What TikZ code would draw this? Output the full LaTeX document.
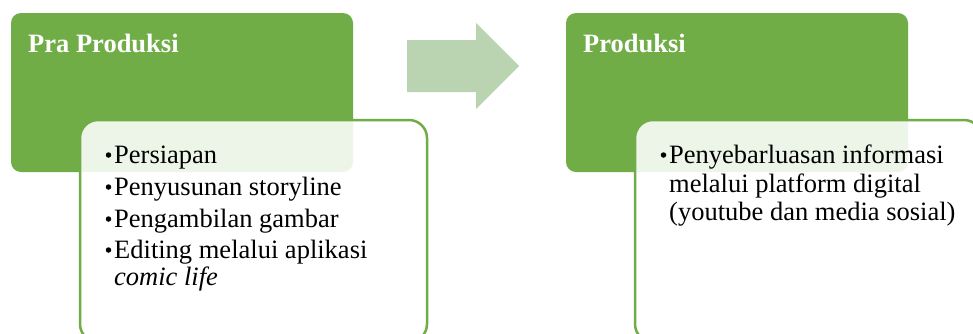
\documentclass[tikz,border=0pt]{standalone}
\usepackage{fontspec}
\setmainfont{Liberation Serif}
\definecolor{ggreen}{RGB}{112,173,71}
\definecolor{lgreen}{RGB}{186,211,176}
\begin{document}
\begin{tikzpicture}[x=1pt,y=-1pt,
  headbox/.style={fill=ggreen, rounded corners=10pt},
  bodybox/.style={draw=ggreen, line width=2.5pt, fill=white, fill opacity=0.88, rounded corners=18pt},
  titletext/.style={anchor=base west, inner sep=0pt, text=white, font=\fontsize{26.5}{30}\selectfont\bfseries},
  itemtext/.style={anchor=base west, inner sep=0pt, font=\fontsize{26.5}{30}\selectfont},
  dot/.style={circle, fill=black, inner sep=0pt, minimum size=5.5pt}]
\useasboundingbox (0,0) rectangle (973,333);
\fill[white] (0,0) rectangle (973,333);
\clip (0,0) rectangle (973,333);
% left stage
\path[headbox] (11,13) rectangle (353,172);
\node[titletext] (t1) at (28,52) {Pra Produksi};
\path[bodybox] (80,120) rectangle (427,342);
\node[dot] (b1) at (108.5,155) {};
\node[itemtext] (l1) at (114,163) {Persiapan};
\node[dot] (b2) at (108.5,187) {};
\node[itemtext] (l2) at (114,195) {Penyusunan storyline};
\node[dot] (b3) at (108.5,219) {};
\node[itemtext] (l3) at (114,227) {Pengambilan gambar};
\node[dot] (b4) at (108.5,250) {};
\node[itemtext] (l4) at (114,258) {Editing melalui aplikasi};
\node[itemtext] (l5) at (114,285) {\itshape comic life};
% arrow
\fill[lgreen] (407,40) -- (476,40) -- (476,23) -- (519,66) -- (476,109) -- (476,92) -- (407,92) -- cycle;
% right stage
\path[headbox] (566,13) rectangle (908,172);
\node[titletext] (t2) at (583,52) {Produksi};
\path[bodybox] (635,120) rectangle (982,342);
\node[dot] (b5) at (663.5,155) {};
\node[itemtext] (r1) at (669,163) {Penyebarluasan informasi};
\node[itemtext] (r2) at (669,192) {melalui platform digital};
\node[itemtext] (r3) at (669,220) {(youtube dan media sosial)};
\end{tikzpicture}
\end{document}
